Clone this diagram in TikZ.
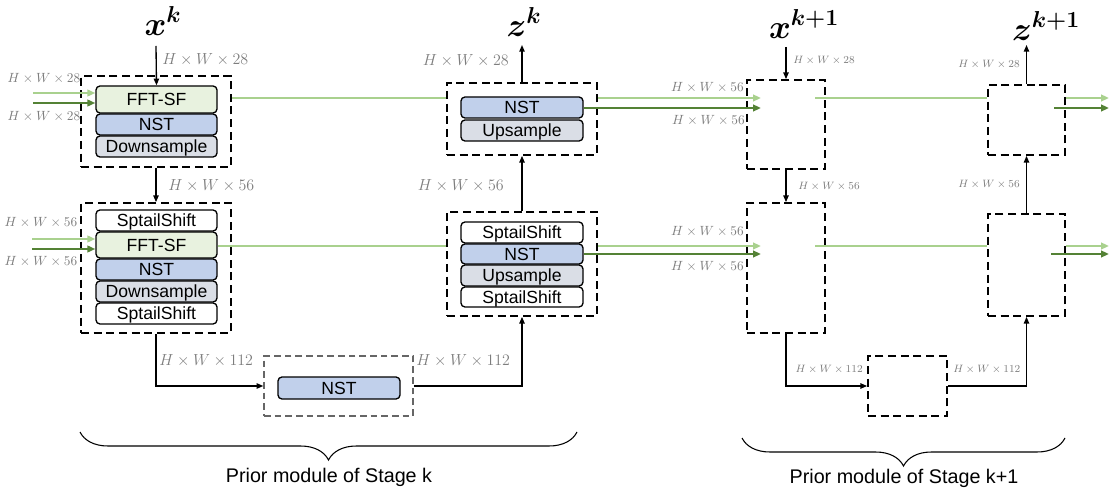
\documentclass[tikz,border=0pt]{standalone}
\usepackage{fontspec}
\usepackage{bm}
\setsansfont{Liberation Sans}
\usetikzlibrary{fit,arrows.meta,decorations.pathreplacing}
\definecolor{lgreen}{RGB}{169,209,142}
\definecolor{dgreen}{RGB}{84,130,53}
\definecolor{fftfill}{RGB}{232,242,223}
\definecolor{nstfill}{RGB}{193,208,235}
\definecolor{smpfill}{RGB}{218,222,230}
\definecolor{lblgray}{RGB}{125,125,125}
\tikzset{
  blk/.style={draw=black, line width=1pt, rounded corners=3pt, inner sep=0pt},
  fftblk/.style={blk, fill=fftfill},
  nstblk/.style={blk, fill=nstfill},
  smpblk/.style={blk, fill=smpfill},
  shiftblk/.style={blk, fill=white},
  blktxt/.style={inner sep=0pt, anchor=center, font=\sffamily\fontsize{13.2}{15}\selectfont,
    text height=9.45pt, text depth=0pt},
  dbox/.style={draw=black, line width=1.3pt, dash pattern=on 6pt off 3.5pt, inner sep=0pt},
  gdbox/.style={draw=black!60, line width=1pt, dash pattern=on 5pt off 3pt, inner sep=0pt},
  conn/.style={line width=1pt, -{Triangle[length=5pt,width=4pt]}},
  lg/.style={draw=lgreen, line width=1.7pt},
  dg/.style={draw=dgreen, line width=1.7pt},
  lga/.style={lg, -{Triangle[length=6pt,width=5pt]}},
  dga/.style={dg, -{Triangle[length=6pt,width=5pt]}},
  dimbig/.style={text=lblgray, font=\fontsize{13.2}{15}\selectfont, inner sep=0pt},
  dimmid/.style={text=lblgray, font=\fontsize{9.7}{11}\selectfont, inner sep=0pt},
  dimsm/.style={text=lblgray, font=\fontsize{8.3}{10}\selectfont, inner sep=0pt},
  varlbl/.style={font=\fontsize{23}{26}\selectfont, inner sep=0pt},
  stagelbl/.style={font=\sffamily\fontsize{14.8}{17}\selectfont, inner sep=0pt},
  brc/.style={line width=0.8pt, decorate, decoration={brace, amplitude=21pt}}
}
\begin{document}
\begin{tikzpicture}[x=0.75pt,y=-0.75pt]
\useasboundingbox (0,0) rectangle (1110,495);

% ===== Stage k : encoder level 1 =====
\node[dbox, fit={(81,76)(231,167)}] (d1) {};
\node[fftblk, fit={(96,86)(217,113)}] (fft1) {};
\node[nstblk, fit={(96,114)(217,135)}] (nst1) {};
\node[smpblk, fit={(96,136)(217,157)}] (down1) {};
\node[blktxt] (fft1t) at (fft1) {FFT-SF};
\node[blktxt] (nst1t) at (nst1) {NST};
\node[blktxt] (down1t) at (down1) {Downsample};

% ===== Stage k : encoder level 2 =====
\node[dbox, fit={(81,203)(231,333)}] (d2) {};
\node[shiftblk, fit={(96,210)(217,231)}] (sh2a) {};
\node[fftblk, fit={(96,232)(217,258)}] (fft2) {};
\node[nstblk, fit={(96,259)(217,280)}] (nst2) {};
\node[smpblk, fit={(96,281)(217,302)}] (down2) {};
\node[shiftblk, fit={(96,303)(217,324)}] (sh2b) {};
\node[blktxt] (sh2at) at (sh2a) {SptailShift};
\node[blktxt] (fft2t) at (fft2) {FFT-SF};
\node[blktxt] (nst2t) at (nst2) {NST};
\node[blktxt] (down2t) at (down2) {Downsample};
\node[blktxt] (sh2bt) at (sh2b) {SptailShift};

% ===== Stage k : bottleneck =====
\node[gdbox, fit={(264,356)(413,416)}] (d3) {};
\node[nstblk, fit={(278,377)(400,399)}] (nst3) {};
\node[blktxt] (nst3t) at (nst3) {NST};

% ===== Stage k : decoder level 1 =====
\node[dbox, fit={(447,83)(597,155)}] (dz1) {};
\node[nstblk, fit={(461,97)(583,118)}] (znst1) {};
\node[smpblk, fit={(461,120)(583,141)}] (up1) {};
\node[blktxt] (znst1t) at (znst1) {NST};
\node[blktxt] (up1t) at (up1) {Upsample};

% ===== Stage k : decoder level 2 =====
\node[dbox, fit={(447,212)(597,316)}] (dz2) {};
\node[shiftblk, fit={(461,222)(583,243)}] (zsh2a) {};
\node[nstblk, fit={(461,244)(583,264)}] (znst2) {};
\node[smpblk, fit={(461,265)(583,286)}] (up2) {};
\node[shiftblk, fit={(461,287)(583,307)}] (zsh2b) {};
\node[blktxt] (zsh2at) at (zsh2a) {SptailShift};
\node[blktxt] (znst2t) at (znst2) {NST};
\node[blktxt] (up2t) at (up2) {Upsample};
\node[blktxt] (zsh2bt) at (zsh2b) {SptailShift};

% ===== Stage k+1 boxes =====
\node[dbox, fit={(747,80)(825,169)}] (e1) {};
\node[dbox, fit={(747,203)(825,333)}] (e2) {};
\node[dbox, fit={(868,356)(947,416)}] (e3) {};
\node[dbox, fit={(988,85)(1065,155)}] (ez1) {};
\node[dbox, fit={(988,214)(1065,316)}] (ez2) {};

% ===== variable labels =====
\node[varlbl] (xk) at (163,21) {$\bm{x}^{\bm{k}}$};
\node[varlbl] (zk) at (524,22) {$\bm{z}^{\bm{k}}$};
\node[varlbl] (xk1) at (804,24) {$\bm{x}^{\bm{k+1}}$};
\node[varlbl] (zk1) at (1046,26) {$\bm{z}^{\bm{k+1}}$};

% ===== coordinates =====
\coordinate (xin) at (156,46);
\coordinate (zout) at (522,45);
\coordinate (xin1) at (786,47);
\coordinate (zout1) at (1026.5,45);

% ===== black connectors, stage k =====
\draw[conn] (xin) -- (fft1.north);
\draw[conn] (d1.south) -- (d2.north);
\draw[conn] (d2.south) |- (d3.west);
\draw[conn] (d3.east) -| (dz2.south);
\draw[conn] (dz2.north) -- (dz1.south);
\draw[conn] (dz1.north) -- (zout);

% ===== black connectors, stage k+1 =====
\draw[conn] (xin1) -- (e1.north);
\draw[conn] (e1.south) -- (e2.north);
\draw[conn] (e2.south) |- (e3.west);
\draw[conn] (e3.east) -| (ez2.south);
\draw[conn] (ez2.north) -- (ez1.south);
\draw[conn] (ez1.north) -- (zout1);

% ===== green connectors, level 1 =====
\coordinate (li1) at (33,93);
\coordinate (di1) at (33,103);
\coordinate (lo1) at (761,98);
\coordinate (do1) at (761,108);
\coordinate (lo1b) at (1109,98);
\coordinate (do1b) at (1109,108);
\draw[lga] (li1) -- (li1 -| fft1.west);
\draw[dga] (di1) -- (di1 -| fft1.west);
\draw[lg] (lo1 -| d1.east) -- (lo1 -| dz1.west);
\draw[lga] (lo1 -| dz1.east) -- (lo1);
\draw[dga] (do1 -| znst1.east) -- (do1);
\draw[lg] (815,98) -- (lo1 -| ez1.west);
\draw[lga] (lo1b -| ez1.east) -- (lo1b);
\draw[dga] (1054,108) -- (do1b);

% ===== green connectors, level 2 =====
\coordinate (li2) at (32,239);
\coordinate (di2) at (32,249);
\coordinate (lo2) at (761,246);
\coordinate (do2) at (761,254);
\coordinate (lo2b) at (1109,246);
\coordinate (do2b) at (1109,254);
\draw[lga] (li2) -- (li2 -| fft2.west);
\draw[dga] (di2) -- (di2 -| fft2.west);
\draw[lg] (lo2 -| fft2.east) -- (lo2 -| dz2.west);
\draw[lga] (lo2 -| dz2.east) -- (lo2);
\draw[dga] (do2 -| znst2.east) -- (do2);
\draw[lg] (815,246) -- (lo2 -| ez2.west);
\draw[lga] (lo2b -| ez2.east) -- (lo2b);
\draw[dga] (1051,254) -- (do2b);

% ===== dimension labels, stage k =====
\node[dimbig, anchor=west] (l1) at (162,60) {$H\times W\times 28$};
\node[dimbig, anchor=west] (l2) at (168,186) {$H\times W\times 56$};
\node[dimbig, anchor=west] (l3) at (159,361) {$H\times W\times 112$};
\node[dimbig, anchor=west] (l4) at (416,361) {$H\times W\times 112$};
\node[dimbig, anchor=east] (l5) at (504,186) {$H\times W\times 56$};
\node[dimbig, anchor=east] (l6) at (509,61) {$H\times W\times 28$};
\node[dimmid] (l7) at (44,79) {$H\times W\times 28$};
\node[dimmid] (l8) at (44,117) {$H\times W\times 28$};
\node[dimmid] (l9) at (41,223) {$H\times W\times 56$};
\node[dimmid] (l10) at (41,262) {$H\times W\times 56$};
\node[dimmid, anchor=east] (l11) at (744,88) {$H\times W\times 56$};
\node[dimmid, anchor=east] (l12) at (745,121) {$H\times W\times 56$};
\node[dimmid, anchor=east] (l13) at (744,232) {$H\times W\times 56$};
\node[dimmid, anchor=east] (l14) at (744,267) {$H\times W\times 56$};

% ===== dimension labels, stage k+1 =====
\node[dimsm, anchor=west] (m1) at (793,60) {$H\times W\times 28$};
\node[dimsm, anchor=west] (m2) at (798,186) {$H\times W\times 56$};
\node[dimsm, anchor=east] (m3) at (863,369) {$H\times W\times 112$};
\node[dimsm, anchor=west] (m4) at (953,369) {$H\times W\times 112$};
\node[dimsm, anchor=east] (m5) at (1020,184) {$H\times W\times 56$};
\node[dimsm, anchor=east] (m6) at (1020,64) {$H\times W\times 28$};

% ===== braces =====
\coordinate (bk1) at (577,432);
\coordinate (bk0) at (80,432);
\coordinate (bm1) at (1065,438);
\coordinate (bm0) at (742,438);
\draw[brc] (bk1) -- (bk0);
\draw[brc] (bm1) -- (bm0);
\node[stagelbl] (sk) at (329,477) {Prior module of Stage k};
\node[stagelbl] (sk1) at (904,478) {Prior module of Stage k+1};
\end{tikzpicture}
\end{document}
